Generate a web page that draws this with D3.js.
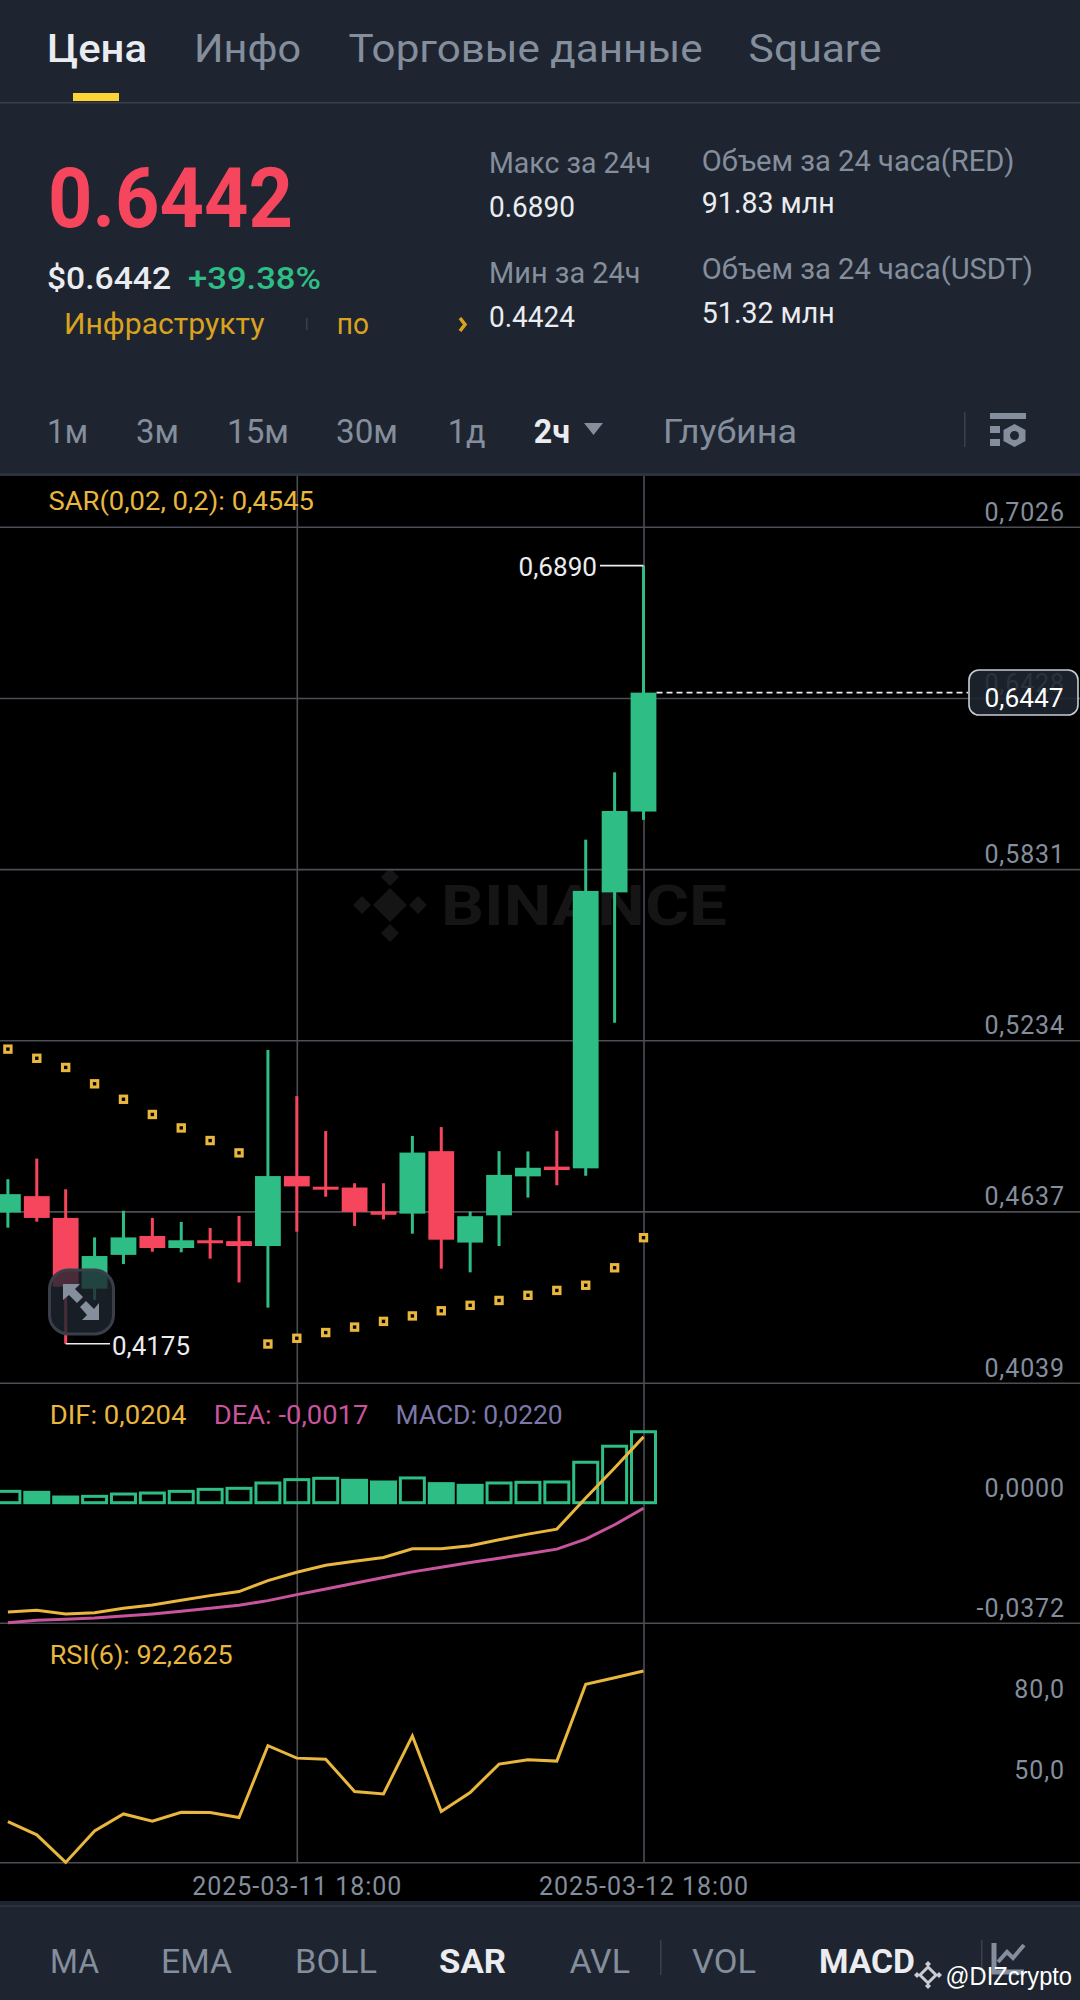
<!DOCTYPE html>
<html>
<head>
<meta charset="utf-8">
<script src="https://cdn.jsdelivr.net/npm/d3@7"></script>
<style>
  html, body { margin: 0; padding: 0; background: #1e2530; }
  svg { display: block; }
  text { font-family: Roboto, "Noto Sans", sans-serif; }
</style>
</head>
<body>
<script>
// candles
var candleOpen  = [.4633,.4690,.4614,.4367,.4485,.4551,.4509,.4536,.4533,.4516,.4760,.4723,.4720,.4637,.4629,.4847,.4528,.4623,.4759,.4793,.4787,.5750,.6032];
var candleHigh  = [.4749,.4821,.4714,.4546,.4639,.4614,.4600,.4579,.4621,.5200,.5039,.4917,.4735,.4735,.4900,.4931,.4636,.4847,.4846,.4918,.5934,.6169,.6890];
var candleLow   = [.4580,.4601,.4175,.4328,.4453,.4496,.4494,.4472,.4389,.4301,.4566,.4688,.4586,.4609,.4559,.4437,.4424,.4516,.4685,.4728,.4761,.5295,.6003];
var candleClose = [.4697,.4614,.4374,.4481,.4546,.4509,.4536,.4526,.4516,.4760,.4724,.4714,.4635,.4625,.4842,.4538,.4620,.4764,.4789,.4781,.5755,.6034,.6447];
var sarValues   = [.5203,.5171,.5139,.5082,.5028,.4975,.4928,.4884,.4841,.4174,.4194,.4214,.4233,.4253,.4272,.4290,.4309,.4326,.4344,.4361,.4379,.4440,.4545];

// MACD pane
var macdHist = [.00352,.00321,.00176,.00197,.00269,.00300,.00352,.00414,.00446,.00611,.00715,.00756,.00694,.00642,.00767,.00591,.00539,.00611,.00632,.00642,.01254,.01751,.02200];
var histSolid = [1,2,12,13,15,16];
var difValues = [-.03388,-.03336,-.03450,-.03409,-.03274,-.03171,-.03026,-.02881,-.02756,-.02414,-.02155,-.01938,-.01813,-.01699,-.01430,-.01430,-.01337,-.01150,-.00974,-.00819,.00145,.01078,.0204];
var deaValues = [-.03720,-.03647,-.03616,-.03575,-.03513,-.03450,-.03368,-.03274,-.03181,-.03036,-.02849,-.02673,-.02497,-.02321,-.02145,-.02000,-.01855,-.01720,-.01585,-.01440,-.01129,-.00684,-.0017];

// RSI pane
var rsiValues = [36.7,31.8,21.6,33.2,39.5,36.8,40.1,40.0,38.2,64.7,60.1,59.7,47.8,46.9,68.3,40.4,47.4,57.9,59.5,59.0,87.4,89.8,92.26];

// axis ticks
var priceTicks = [.7026,.6428,.5831,.5234,.4637,.4039];
var macdTicks = [0,-.0372];
var rsiTicks = [80,50];
var timeTicks = [10,22];
var timeLabels = ["2025-03-11 18:00","2025-03-12 18:00"];

var width = 1080, height = 2000;
var green = "#2ebd85", red = "#f6465d", panel = "#1e2530", grey = "#848e9c",
    yellow = "#e9b63e", gridCol = "#4b4e56";

var svg = d3.select("body").append("svg")
    .attr("width", width)
    .attr("height", height);

//scales
var x = d3.scaleLinear().domain([0,22]).range([7.9,643.5]);
var priceY = d3.scaleLinear().domain([.4039,.7026]).range([1382.7,526.7]);
var macdY = d3.scaleLinear().domain([-.0372,.0372]).range([1622.7,1382.7]);
var rsiY = d3.scaleLinear().domain([21.5,92.26]).range([1862.7,1671]);

function comma(d, n) { return d.toFixed(n).replace(".", ","); }

//plain text squeezed to the measured width
function addText(str, x1, x2, base, size, color, weight) {
  return svg.append("text")
    .attr("x", x1).attr("y", base)
    .attr("textLength", x2 - x1)
    .attr("lengthAdjust", "spacingAndGlyphs")
    .attr("font-size", size)
    .attr("font-weight", weight || 400)
    .attr("fill", color)
    .text(str);
}

//one diamond of the exchange logo
function diamond(g, cx, cy, r) {
  return g.append("path").attr("d","M"+cx+" "+(cy-r)+"l"+r+" "+r+"l"+(-r)+" "+r+"l"+(-r)+" "+(-r)+"z");
}

//chart background
svg.append("rect").attr("x",0).attr("y",476).attr("width",width).attr("height",1425).attr("fill","#000");
svg.append("rect").attr("x",0).attr("y",1905).attr("width",width).attr("height",2).attr("fill","#2b323d");
svg.append("rect").attr("x",0).attr("y",473).attr("width",width).attr("height",3).attr("fill","#2b323d");

/* ---- header ---- */
addText("Цена",47,147,62,38,"#eaecef",500);
addText("Инфо",194,301,62,38,grey,400);
addText("Торговые данные",348.5,702.5,62,38,grey,400);
addText("Square",748.6,881.5,62,38,grey,400);
svg.append("rect").attr("x",73).attr("y",93).attr("width",46).attr("height",8).attr("fill","#fcd535");
svg.append("rect").attr("x",0).attr("y",102).attr("width",width).attr("height",1.5).attr("fill","#39404b");

addText("0.6442",48,293,226.7,84,red,700);
addText("$0.6442",47,171,289,32,"#eaecef",500);
addText("+39.38%",188,321,289,32,green,500);
addText("Инфраструкту",64,264.5,334,29,"#d9a21f",400);
svg.append("rect").attr("x",306).attr("y",318).attr("width",1.5).attr("height",12).attr("fill","#3a414c");
addText("по",336.8,369,334,29,"#d9a21f",400);
svg.append("path").attr("d","M460 318l5 6.5-5 6.5").attr("fill","none").attr("stroke","#d9a21f").attr("stroke-width",3.5);

addText("Макс за 24ч",489,651,173,29,grey);
addText("0.6890",489,575,216.7,29,"#eaecef");
addText("Мин за 24ч",489,640.5,283,29,grey);
addText("0.4424",489,575,326.7,29,"#eaecef");
addText("Объем за 24 часа(RED)",701.8,1014.5,170.7,29,grey);
addText("91.83 млн",701.8,834.7,212.7,29,"#eaecef");
addText("Объем за 24 часа(USDT)",701.8,1033,279,29,grey);
addText("51.32 млн",701.8,834.7,322.7,29,"#eaecef");

addText("1м",47,88,443.3,34,grey);
addText("3м",136,179,443.3,34,grey);
addText("15м",227,289,443.3,34,grey);
addText("30м",336,398,443.3,34,grey);
addText("1д",447.7,485.5,443.3,34,grey);
addText("2ч",533.7,570,443.3,34,"#eaecef",700);
svg.append("path").attr("d","M584 423h19l-9.500 12z").attr("fill",grey);
addText("Глубина",663,797,443.3,34,grey);
svg.append("rect").attr("x",964).attr("y",412).attr("width",1.5).attr("height",35).attr("fill","#39404b");

//settings icon
svg.append("rect").attr("x",990).attr("y",413).attr("width",36).attr("height",6).attr("fill",grey);
svg.append("rect").attr("x",990).attr("y",426).attr("width",10).attr("height",7).attr("fill",grey);
svg.append("rect").attr("x",990).attr("y",439).attr("width",10).attr("height",7).attr("fill",grey);
svg.append("path").attr("d","M1014.500 424l11 6v11l-11 6-11-6v-11z").attr("fill",grey);
svg.append("circle").attr("cx",1014.500).attr("cy",435.500).attr("r",4.500).attr("fill",panel);

/* ---- watermark ---- */
var mark = svg.append("g").attr("fill","#151515");
diamond(mark,390,905,17);
diamond(mark,362,905,9);
diamond(mark,418,905,9);
diamond(mark,390,877,9);
diamond(mark,390,933,9);
mark.append("text").attr("x",441).attr("y",925).attr("font-size",56).attr("font-weight",700)
    .attr("textLength",286).attr("lengthAdjust","spacingAndGlyphs").text("BINANCE");

/* ---- axes ---- */
var priceAxis = svg.append("g").call(d3.axisRight(priceY)
    .tickValues(priceTicks).tickSize(width).tickFormat(function(d) { return comma(d,4); }));
var macdAxis = svg.append("g").call(d3.axisRight(macdY)
    .tickValues(macdTicks).tickSize(width).tickFormat(function(d) { return comma(d,4); }));
var rsiAxis = svg.append("g").call(d3.axisRight(rsiY)
    .tickValues(rsiTicks).tickSize(0).tickFormat(function(d) { return comma(d,1); }));
var timeAxis = svg.append("g").attr("transform","translate(0,476)").call(d3.axisBottom(x)
    .tickValues(timeTicks).tickSize(1386.7).tickFormat(function(d,i) { return timeLabels[i]; }));

[priceAxis,macdAxis,rsiAxis].forEach(function(a) {
  a.select(".domain").remove();
  a.selectAll("line").attr("stroke",gridCol).attr("stroke-width",1.6);
  a.selectAll("text").attr("x",1065).attr("dy",-6.500).attr("text-anchor","end")
    .attr("font-size",25).attr("fill",grey).attr("letter-spacing",.9)
    .style("font-family","Roboto");
});
macdAxis.selectAll(".tick").filter(function(d) { return d === 0; }).select("line").remove();
timeAxis.select(".domain").remove();
timeAxis.selectAll("line").attr("stroke",gridCol).attr("stroke-width",1.6);
timeAxis.selectAll("text").attr("y",1419).attr("dy",0)
    .attr("font-size",25).attr("fill",grey).attr("letter-spacing",.95)
    .style("font-family","Roboto");

//bottom line of the RSI pane
svg.append("line").attr("x1",0).attr("x2",width)
    .attr("y1",rsiY(21.5)).attr("y2",rsiY(21.5))
    .attr("stroke",gridCol).attr("stroke-width",1.6);

/* ---- candles ---- */
var candles = svg.append("g").selectAll("g")
    .data(candleOpen)
    .enter().append("g")
    .attr("fill",function(d,i) { return candleClose[i] >= d ? green : red; });

candles.append("rect")
    .attr("x",function(d,i) { return x(i) - 1.5; })
    .attr("width",3)
    .attr("y",function(d,i) { return priceY(candleHigh[i]); })
    .attr("height",function(d,i) { return priceY(candleLow[i]) - priceY(candleHigh[i]); });

candles.append("rect")
    .attr("x",function(d,i) { return x(i) - 12.9; })
    .attr("width",25.8)
    .attr("y",function(d,i) { return priceY(Math.max(d,candleClose[i])); })
    .attr("height",function(d,i) { return Math.max(3,Math.abs(priceY(d) - priceY(candleClose[i]))); });

//SAR dots
svg.append("g").selectAll("rect")
    .data(sarValues)
    .enter().append("rect")
    .attr("x",function(d,i) { return x(i) - 3.2; })
    .attr("y",function(d) { return priceY(d) - 3.2; })
    .attr("width",6.4).attr("height",6.4)
    .attr("fill","#000").attr("stroke",yellow).attr("stroke-width",3);

//highest, lowest and last price
svg.append("path").attr("d","M600 "+priceY(.6890)+"H"+x(22)).attr("fill","none").attr("stroke","#eaecef").attr("stroke-width",1.6);
addText(comma(.6890,4),518.5,597,576,25,"#eaecef");
svg.append("path").attr("d","M"+x(2)+" "+priceY(.4175)+"H110").attr("fill","none").attr("stroke","#eaecef").attr("stroke-width",1.6);
addText(comma(.4175,4),112,190,1355,25,"#eaecef");

svg.append("line").attr("x1",656.500).attr("x2",968)
    .attr("y1",priceY(.6447)).attr("y2",priceY(.6447))
    .attr("stroke","#eaecef").attr("stroke-width",1.6).attr("stroke-dasharray","6,4");
svg.append("rect").attr("x",969).attr("y",670).attr("width",109).attr("height",45).attr("rx",10)
    .attr("fill",panel).attr("fill-opacity",.88).attr("stroke","#c9ccd1").attr("stroke-width",1.6);
addText(comma(.6447,4),984.6,1063.5,706.7,25,"#ffffff");

//expand button
svg.append("rect").attr("x",49.500).attr("y",1270).attr("width",64).attr("height",64).attr("rx",19)
    .attr("fill","#1e2530").attr("fill-opacity",.8).attr("stroke","#393e49").attr("stroke-width",3);
svg.append("path").attr("d","M63 1284h17l-5 5 8 8-6 6-8-8-6 5z").attr("fill",grey);
svg.append("path").attr("d","M99 1320h-17l5-5-7-8 6-6 8 8 5-6z").attr("fill",grey);

/* ---- indicator legends ---- */
addText("SAR(0,02, 0,2): 0,4545",48.5,314,510,25.500,yellow);
addText("DIF: 0,0204",49.7,186.5,1424.3,25.500,yellow);
addText("DEA: -0,0017",213.8,368.3,1424.3,25.500,"#c9549e");
addText("MACD: 0,0220",395.6,562.7,1424.3,25.500,"#7e78a8");
addText("RSI(6): 92,2625",49.7,232.7,1664.3,25.500,yellow);

/* ---- MACD pane ---- */
svg.append("g").selectAll("rect")
    .data(macdHist)
    .enter().append("rect")
    .attr("x",function(d,i) { return x(i) - 12; })
    .attr("width",24)
    .attr("y",function(d) { return macdY(d); })
    .attr("height",function(d) { return macdY(0) - macdY(d); })
    .attr("stroke",green).attr("stroke-width",3)
    .attr("fill",function(d,i) { return histSolid.indexOf(i) >= 0 ? green : "none"; });

function addLine(values, scale, color) {
  svg.append("path")
    .datum(values)
    .attr("fill","none").attr("stroke",color).attr("stroke-width",3)
    .attr("d",d3.line().x(function(d,i) { return x(i); }).y(function(d) { return scale(d); }));
}
addLine(difValues,macdY,yellow);
addLine(deaValues,macdY,"#c9549e");
addLine(rsiValues,rsiY,yellow);

/* ---- bottom bar ---- */
addText("MA",50,99,1973,34,grey);
addText("EMA",161,232,1973,34,grey);
addText("BOLL",295,377,1973,34,grey);
addText("SAR",439,506,1973,34,"#eaecef",700);
addText("AVL",569.4,630,1973,34,grey);
svg.append("rect").attr("x",660).attr("y",1940).attr("width",1.5).attr("height",35).attr("fill","#39404b");
addText("VOL",692,756,1973,34,grey);
addText("MACD",819,915,1973,34,"#eaecef",700);
svg.append("rect").attr("x",981).attr("y",1940).attr("width",1.5).attr("height",35).attr("fill","#39404b");
svg.append("path").attr("d","M994 1943v29h30").attr("fill","none").attr("stroke",grey).attr("stroke-width",5);
svg.append("path").attr("d","M998 1962l9-10 6 6 11-13").attr("fill","none").attr("stroke",grey).attr("stroke-width",4);

//repost tag
var tag = svg.append("g").attr("fill","#c9ccd1");
diamond(tag,928,1975,8).attr("fill","#1e2530").attr("stroke","#c9ccd1").attr("stroke-width",3);
diamond(tag,917,1975,3);
diamond(tag,939,1975,3);
diamond(tag,928,1964,3);
diamond(tag,928,1986,3);
svg.append("text").attr("x",945.6).attr("y",1985).attr("textLength",126.4)
    .attr("lengthAdjust","spacingAndGlyphs").attr("font-size",26).attr("fill","#ffffff")
    .style("font-family","'Liberation Sans'").text("@DIZcrypto");
</script>
</body>
</html>
